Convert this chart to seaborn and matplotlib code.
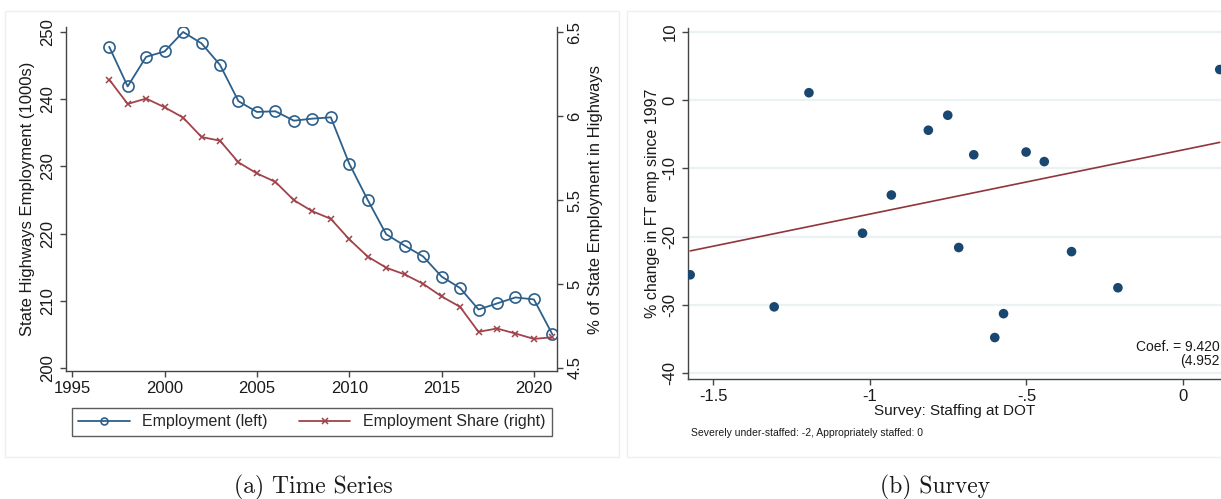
import numpy as np
import pandas as pd
import matplotlib
matplotlib.use("Agg")
import matplotlib.pyplot as plt
from matplotlib.patches import Rectangle
import seaborn as sns

# ── Data ──────────────────────────────────────────────────────────────────────
years = list(range(1997, 2022))
employment = [247.8, 241.9, 246.3, 247.1, 250.0, 248.3, 245.1, 239.7, 238.1,
              238.2, 236.8, 237.1, 237.3, 230.4, 225.0, 219.9, 218.2, 216.6,
              213.6, 211.9, 208.7, 209.6, 210.5, 210.2, 205.0]
emp_share = [6.217, 6.072, 6.104, 6.052, 5.991, 5.875, 5.853, 5.724, 5.658,
             5.608, 5.499, 5.433, 5.388, 5.266, 5.163, 5.097, 5.057, 5.001,
             4.926, 4.864, 4.715, 4.735, 4.705, 4.673, 4.683]

staffing = [-1.573, -1.305, -1.194, -1.023, -0.931, -0.813, -0.751, -0.716,
            -0.668, -0.601, -0.573, -0.501, -0.443, -0.356, -0.208, 0.117]
pct_change = [-25.6, -30.3, 1.1, -19.5, -13.9, -4.4, -2.2, -21.6,
              -8.0, -34.8, -31.3, -7.6, -9.0, -22.2, -27.5, 4.5]

reg_coef = 9.420
reg_intercept = -7.28

left_yticks = [200, 210, 220, 230, 240, 250]
right_yticks = [4.5, 5, 5.5, 6, 6.5]
right_yticklabels = ["4.5", "5", "5.5", "6", "6.5"]
year_ticks = [1995, 2000, 2005, 2010, 2015, 2020]
survey_ticks = [-1.5, -1, -0.5, 0]
survey_ticklabels = ["-1.5", "-1", "-.5", "0"]
survey_yticks = [-40, -30, -20, -10, 0, 10]

ts = pd.DataFrame({"year": years, "employment": employment, "share": emp_share})
survey = pd.DataFrame({"staffing": staffing, "pct_change": pct_change})
fit_x = np.array([min(staffing), max(staffing)])
fit = pd.DataFrame({"staffing": fit_x, "fitted": reg_intercept + reg_coef * fit_x})

# ── Style ─────────────────────────────────────────────────────────────────────
sns.set_style("ticks")
plt.rcParams["font.family"] = ["Liberation Sans", "DejaVu Sans"]
plt.rcParams["axes.unicode_minus"] = False

BLUE_LINE = "#2D5F8B"
RED_LINE = "#A0434A"
NAVY = "#1A476F"
MAROON = "#90353B"
SPINE = "#444444"
TXT = "#1A1A1A"

W, H = 1221, 499
fig = plt.figure(figsize=(W / 100, H / 100), dpi=100)


def fx(px):
    return px / W


def fy(py):
    return 1 - py / H


# faint panel borders
for x0, x1 in [(5, 619), (627, 1230)]:
    fig.patches.append(Rectangle((fx(x0), fy(457)), fx(x1 - x0), (457 - 11) / H,
                                 transform=fig.transFigure, fill=False,
                                 edgecolor="#EFEFEF", linewidth=1.0))

# ── (a) Time series ──────────────────────────────────────────────────────────
ax = fig.add_axes([fx(66), fy(371), fx(557 - 66), (371 - 27) / H])
ax2 = ax.twinx()

sns.lineplot(data=ts, x="year", y="employment", ax=ax, color=BLUE_LINE,
             linewidth=1.3, marker="o", markersize=8, markerfacecolor="none",
             markeredgecolor=BLUE_LINE, markeredgewidth=1.2)
sns.lineplot(data=ts, x="year", y="share", ax=ax2, color=RED_LINE,
             linewidth=1.3, marker="x", markersize=5,
             markeredgecolor=RED_LINE, markeredgewidth=1.1)

ax.set_xlim(1994.66, 2021.25)
ax.set_ylim(199.55, 250.74)
ax2.set_ylim(4.482, 6.530)
ax.set_xticks(year_ticks)
ax.set_yticks(left_yticks)
ax2.set_yticks(right_yticks)
ax2.set_yticklabels(right_yticklabels)

ax.set_xlabel("")
ax2.set_xlabel("")
ax.set_ylabel("State Highways Employment (1000s)", fontsize=12, color=TXT,
              labelpad=4)
ax2.set_ylabel("% of State Employment in Highways", fontsize=12, color=TXT,
               labelpad=4)

for a in (ax, ax2):
    a.tick_params(axis="both", labelsize=12, colors=SPINE, labelcolor=TXT,
                  length=4, width=1)
    a.tick_params(axis="y", labelrotation=90)
    for s in a.spines.values():
        s.set_color(SPINE)
        s.set_linewidth(1)
    a.spines["top"].set_visible(False)
ax.spines["right"].set_visible(False)
ax2.spines["left"].set_visible(False)
ax2.spines["bottom"].set_visible(False)
for lbl in ax.get_yticklabels() + ax2.get_yticklabels():
    lbl.set_va("center")

h1 = ax.get_lines()[0]
h2 = ax2.get_lines()[0]
leg = fig.legend([h1, h2], ["Employment (left)", "Employment Share (right)"],
                 loc="upper left", mode="expand", ncol=2,
                 bbox_to_anchor=(fx(72), fy(408), fx(552 - 72), 0),
                 bbox_transform=fig.transFigure, fontsize=11.5, frameon=True,
                 fancybox=False, edgecolor="#333333", handlelength=3.2,
                 borderpad=0.4, borderaxespad=0, handletextpad=0.8,
                 columnspacing=1.0)
leg.get_frame().set_linewidth(1.0)
for line in leg.get_lines():
    line.set_markersize(5)

fig.text(fx(313), fy(487), "(a) Time Series", family="cmr10", fontsize=17,
         ha="center", va="center", color=TXT)

# ── (b) Survey ───────────────────────────────────────────────────────────────
bx = fig.add_axes([fx(688), fy(379), 1 - fx(688), (379 - 28) / H])
sns.lineplot(data=fit, x="staffing", y="fitted", ax=bx, color=MAROON,
             linewidth=1.2)
sns.scatterplot(data=survey, x="staffing", y="pct_change", ax=bx, color=NAVY,
                s=48, edgecolor="none", zorder=3)

bx.set_xlim(-1.58, 0.121)
bx.set_ylim(-40.88, 10.59)
bx.set_xticks(survey_ticks)
bx.set_xticklabels(survey_ticklabels)
bx.set_yticks(survey_yticks)
bx.grid(axis="y", color="#EAF2F3", linewidth=1.6)
bx.set_axisbelow(True)
bx.tick_params(axis="both", labelsize=12, colors=SPINE, labelcolor=TXT,
               length=4, width=1)
bx.tick_params(axis="y", labelrotation=90)
for lbl in bx.get_yticklabels():
    lbl.set_va("center")
for s in bx.spines.values():
    s.set_color(SPINE)
    s.set_linewidth(1)
bx.spines["top"].set_visible(False)
bx.spines["right"].set_visible(False)
bx.set_xlabel("Survey: Staffing at DOT", fontsize=11, color=TXT, labelpad=0)
bx.set_ylabel("% change in FT emp since 1997", fontsize=11.5, color=TXT,
              labelpad=2)

fig.text(fx(691), fy(433), "Severely under-staffed: -2, Appropriately staffed: 0",
         fontsize=7.5, color=TXT, ha="left", va="center")
fig.text(fx(1220), fy(354), "Coef. = 9.420\n(4.952", fontsize=10, color=TXT,
         ha="right", va="center", multialignment="right", linespacing=1.0)

fig.text(fx(935), fy(487), "(b) Survey", family="cmr10", fontsize=17,
         ha="center", va="center", color=TXT)

fig.savefig("out.png", dpi=100)
